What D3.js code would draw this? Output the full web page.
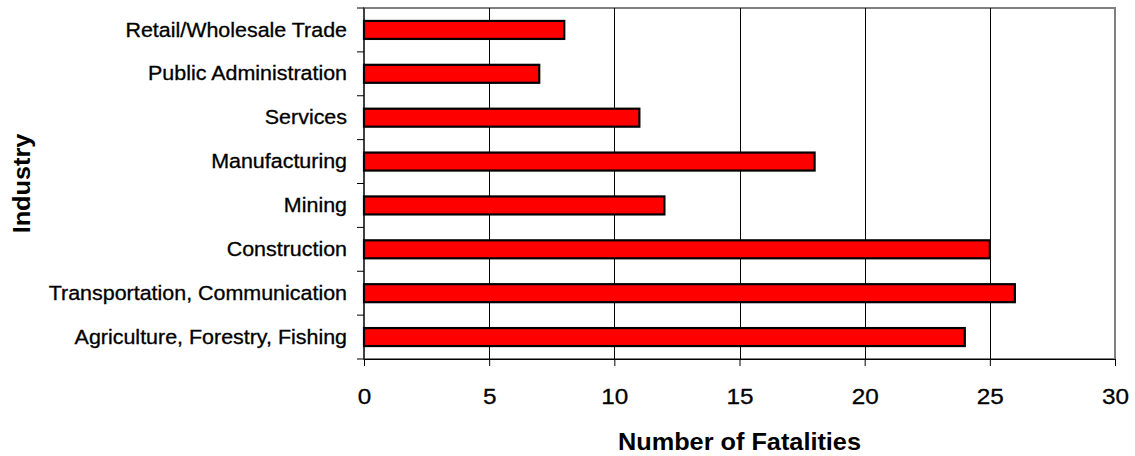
<!DOCTYPE html>
<html>
<head>
<meta charset="utf-8">
<script src="https://cdn.jsdelivr.net/npm/d3@7"></script>
<style>
  html, body { margin: 0; padding: 0; background: #fff; }
  svg { display: block; font-family: "Liberation Sans", Arial, sans-serif; }
</style>
</head>
<body>
<svg id="chart" width="1135" height="456"></svg>
<script>
const categories = [
  "Retail/Wholesale Trade",
  "Public Administration",
  "Services",
  "Manufacturing",
  "Mining",
  "Construction",
  "Transportation, Communication",
  "Agriculture, Forestry, Fishing"
];
const fatalities = [8, 7, 11, 18, 12, 25, 26, 24];
const xTicks = [0, 5, 10, 15, 20, 25, 30];
const xTitle = "Number of Fatalities";
const yTitle = "Industry";

const svg = d3.select("#chart");
const L = 364, R = 1115, T = 8, B = 359;

const x = d3.scaleLinear().domain([0, 30]).range([L, R]);
const y = d3.scaleBand().domain(categories).range([T, B]).paddingInner(0.59).paddingOuter(0.295);
const yTicksScale = d3.scaleBand().domain(categories).range([T, B]);

// plot border (gray)
svg.append("rect").attr("x", L).attr("y", T).attr("width", R - L).attr("height", B - T)
  .attr("fill", "none").attr("stroke", "#808080").attr("stroke-width", 2);

// gridlines
svg.append("g").selectAll("line").data(xTicks.filter(d => d > 0 && d < 30)).join("line")
  .attr("x1", d => Math.round(x(d)) + 0.5).attr("x2", d => Math.round(x(d)) + 0.5)
  .attr("y1", T).attr("y2", B).attr("stroke", "#000").attr("stroke-width", 1);

// bars
svg.append("g").selectAll("rect").data(categories).join("rect")
  .attr("x", x(0))
  .attr("y", d => y(d))
  .attr("width", (d, i) => x(fatalities[i]) - x(0))
  .attr("height", y.bandwidth())
  .attr("fill", "#ff0000").attr("stroke", "#000").attr("stroke-width", 2.2);

// bottom axis
const xAxis = svg.append("g").attr("transform", `translate(0,${B})`)
  .call(d3.axisBottom(x).tickValues(xTicks).tickSizeInner(7).tickSizeOuter(0).tickPadding(22));
xAxis.select(".domain").attr("stroke", "#000");
xAxis.selectAll(".tick line").attr("stroke", "#000");
xAxis.selectAll("text").attr("font-size", "22.5px").attr("fill", "#000")
  .attr("stroke", "#000").attr("stroke-width", 0.3)
  .attr("font-family", "Liberation Sans, Arial, sans-serif")
  .attr("transform", "scale(1.08,1)");

// left axis: ticks at band boundaries
const yAxisG = svg.append("g").attr("transform", `translate(${L},0)`);
yAxisG.append("line").attr("x1", 0).attr("x2", 0).attr("y1", T).attr("y2", B).attr("stroke", "#000");
const boundaries = categories.map(c => yTicksScale(c)).concat([B]);
yAxisG.selectAll("line.tk").data(boundaries).join("line").attr("class", "tk")
  .attr("x1", -7).attr("x2", 0).attr("y1", d => d).attr("y2", d => d).attr("stroke", "#000");
const yAxis = svg.append("g").attr("transform", `translate(${L},0)`)
  .call(d3.axisLeft(yTicksScale.copy().padding(0)).tickSize(0).tickPadding(17));
yAxis.select(".domain").remove();
yAxis.selectAll("text").attr("font-size", "19.5px").attr("fill", "#000")
  .attr("stroke", "#000").attr("stroke-width", 0.3)
  .attr("font-family", "Liberation Sans, Arial, sans-serif")
  .attr("dy", "0.34em")
  .attr("transform", "scale(1.1,1)")
  .attr("x", -17 / 1.1);

// axis titles
svg.append("text")
  .attr("transform", `translate(${(L + R) / 2},450) scale(1.1,1)`)
  .attr("text-anchor", "middle").attr("font-weight", "bold").attr("font-size", "23px")
  .text(xTitle);
svg.append("text")
  .attr("transform", `translate(30,${(T + B) / 2}) rotate(-90) scale(1.1,1)`)
  .attr("text-anchor", "middle").attr("font-weight", "bold").attr("font-size", "23px")
  .text(yTitle);
</script>
</body>
</html>
